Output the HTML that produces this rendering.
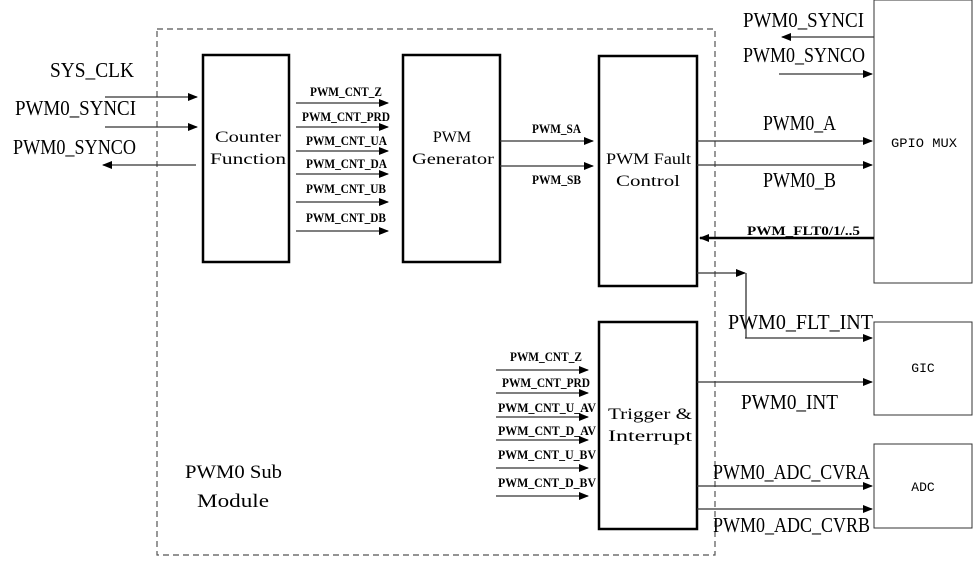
<!DOCTYPE html>
<html><head><meta charset="utf-8"><style>
html,body{margin:0;padding:0;background:#fff;}
svg text{font-family:"Liberation Serif","Noto Serif CJK SC",serif;fill:#000;}
.big{font-size:21px;}
.sm{font-size:12.5px;font-weight:bold;}
.bx{font-size:16px;}
.lb{font-size:13px;font-family:"Liberation Mono",monospace;}
</style></head><body>
<svg width="974" height="558" xmlns="http://www.w3.org/2000/svg">
<defs>
<marker id="a" markerWidth="10" markerHeight="8" refX="9" refY="4" orient="auto" markerUnits="userSpaceOnUse"><path d="M0,0 L10,4 L0,8 z" fill="#000"/></marker>
</defs>
<rect x="157" y="29" width="558" height="526" fill="none" stroke="#555" stroke-width="1.2" stroke-dasharray="6,4"/>
<g fill="none" stroke="#000" stroke-width="2.5">
<rect x="203" y="55" width="86" height="207"/>
<rect x="403" y="55" width="97" height="207"/>
<rect x="599" y="56" width="98" height="230"/>
<rect x="599" y="322" width="98" height="207"/>
</g>
<g fill="none" stroke="#333" stroke-width="1">
<rect x="874" y="0" width="98" height="283"/>
<rect x="874" y="322" width="98" height="93"/>
<rect x="874" y="444" width="98" height="84"/>
</g>
<g stroke="#333" stroke-width="1.3" marker-end="url(#a)">
<line x1="105" y1="97" x2="197" y2="97"/>
<line x1="105" y1="127" x2="197" y2="127"/>
<line x1="196" y1="165" x2="103" y2="165"/>
<line x1="296" y1="103" x2="388" y2="103"/>
<line x1="296" y1="127" x2="388" y2="127"/>
<line x1="296" y1="151" x2="388" y2="151"/>
<line x1="296" y1="174" x2="388" y2="174"/>
<line x1="296" y1="202" x2="388" y2="202"/>
<line x1="296" y1="231" x2="388" y2="231"/>
<line x1="500" y1="141" x2="593" y2="141"/>
<line x1="500" y1="166" x2="593" y2="166"/>
<line x1="697" y1="141" x2="872" y2="141"/>
<line x1="697" y1="165" x2="872" y2="165"/>
<line x1="874" y1="37" x2="782" y2="37"/>
<line x1="779" y1="74" x2="872" y2="74"/>
<line x1="697" y1="273" x2="745" y2="273"/>
<line x1="745" y1="338" x2="872" y2="338"/>
<line x1="697" y1="382" x2="872" y2="382"/>
<line x1="697" y1="486" x2="872" y2="486"/>
<line x1="697" y1="509" x2="872" y2="509"/>
<line x1="496" y1="370" x2="588" y2="370"/>
<line x1="496" y1="393" x2="588" y2="393"/>
<line x1="496" y1="417" x2="588" y2="417"/>
<line x1="496" y1="440" x2="588" y2="440"/>
<line x1="496" y1="468" x2="588" y2="468"/>
<line x1="496" y1="496" x2="588" y2="496"/>
</g>
<line x1="746" y1="273" x2="746" y2="338" stroke="#333" stroke-width="1.3"/>
<line x1="874" y1="238" x2="700" y2="238" stroke="#000" stroke-width="2.5" marker-end="url(#a)"/>
<g lengthAdjust="spacingAndGlyphs">
<text class="big" x="50" y="77" textLength="84" lengthAdjust="spacingAndGlyphs">SYS_CLK</text>
<text class="big" x="15" y="115" textLength="121" lengthAdjust="spacingAndGlyphs">PWM0_SYNCI</text>
<text class="big" x="13" y="154" textLength="123" lengthAdjust="spacingAndGlyphs">PWM0_SYNCO</text>
<text class="big" x="743" y="27" textLength="121" lengthAdjust="spacingAndGlyphs">PWM0_SYNCI</text>
<text class="big" x="743" y="62" textLength="122" lengthAdjust="spacingAndGlyphs">PWM0_SYNCO</text>
<text class="big" x="763" y="130" textLength="73" lengthAdjust="spacingAndGlyphs">PWM0_A</text>
<text class="big" x="763" y="187" textLength="73" lengthAdjust="spacingAndGlyphs">PWM0_B</text>
<text class="big" x="728" y="329" textLength="145" lengthAdjust="spacingAndGlyphs">PWM0_FLT_INT</text>
<text class="big" x="741" y="409" textLength="97" lengthAdjust="spacingAndGlyphs">PWM0_INT</text>
<text class="big" x="713" y="479" textLength="157" lengthAdjust="spacingAndGlyphs">PWM0_ADC_CVRA</text>
<text class="big" x="713" y="532" textLength="157" lengthAdjust="spacingAndGlyphs">PWM0_ADC_CVRB</text>
<text class="sm" x="310" y="96" textLength="72" lengthAdjust="spacingAndGlyphs">PWM_CNT_Z</text>
<text class="sm" x="302" y="121" textLength="88" lengthAdjust="spacingAndGlyphs">PWM_CNT_PRD</text>
<text class="sm" x="306" y="145" textLength="81" lengthAdjust="spacingAndGlyphs">PWM_CNT_UA</text>
<text class="sm" x="306" y="168" textLength="81" lengthAdjust="spacingAndGlyphs">PWM_CNT_DA</text>
<text class="sm" x="306" y="193" textLength="80" lengthAdjust="spacingAndGlyphs">PWM_CNT_UB</text>
<text class="sm" x="306" y="222" textLength="80" lengthAdjust="spacingAndGlyphs">PWM_CNT_DB</text>
<text class="sm" x="532" y="133" textLength="49" lengthAdjust="spacingAndGlyphs">PWM_SA</text>
<text class="sm" x="532" y="184" textLength="49" lengthAdjust="spacingAndGlyphs">PWM_SB</text>
<text class="sm" x="747" y="235" textLength="113" lengthAdjust="spacingAndGlyphs">PWM_FLT0/1/..5</text>
<text class="sm" x="510" y="361" textLength="72" lengthAdjust="spacingAndGlyphs">PWM_CNT_Z</text>
<text class="sm" x="502" y="387" textLength="88" lengthAdjust="spacingAndGlyphs">PWM_CNT_PRD</text>
<text class="sm" x="498" y="412" textLength="98" lengthAdjust="spacingAndGlyphs">PWM_CNT_U_AV</text>
<text class="sm" x="498" y="435" textLength="98" lengthAdjust="spacingAndGlyphs">PWM_CNT_D_AV</text>
<text class="sm" x="498" y="459" textLength="98" lengthAdjust="spacingAndGlyphs">PWM_CNT_U_BV</text>
<text class="sm" x="498" y="487" textLength="98" lengthAdjust="spacingAndGlyphs">PWM_CNT_D_BV</text>
</g>
<text class="bx" x="215" y="142" textLength="66" lengthAdjust="spacingAndGlyphs">Counter</text>
<text class="bx" x="210" y="164" textLength="76" lengthAdjust="spacingAndGlyphs">Function</text>
<text class="bx" x="452" y="142" text-anchor="middle">PWM</text>
<text class="bx" x="412" y="164" textLength="82" lengthAdjust="spacingAndGlyphs">Generator</text>
<text class="bx" x="606" y="164" textLength="85" lengthAdjust="spacingAndGlyphs">PWM Fault</text>
<text class="bx" x="616" y="186" textLength="64" lengthAdjust="spacingAndGlyphs">Control</text>
<text class="bx" x="608" y="419" textLength="84" lengthAdjust="spacingAndGlyphs">Trigger &amp;</text>
<text class="bx" x="608" y="441" textLength="84" lengthAdjust="spacingAndGlyphs">Interrupt</text>
<text class="big" x="185" y="478" textLength="97" lengthAdjust="spacingAndGlyphs" style="font-size:19px">PWM0 Sub</text>
<text class="big" x="197" y="507" textLength="72" lengthAdjust="spacingAndGlyphs" style="font-size:19px">Module</text>
<text class="lb" x="891" y="147" textLength="66" lengthAdjust="spacingAndGlyphs">GPIO MUX</text>
<text class="lb" x="923" y="372" text-anchor="middle">GIC</text>
<text class="lb" x="923" y="491" text-anchor="middle">ADC</text>
</svg>
</body></html>
